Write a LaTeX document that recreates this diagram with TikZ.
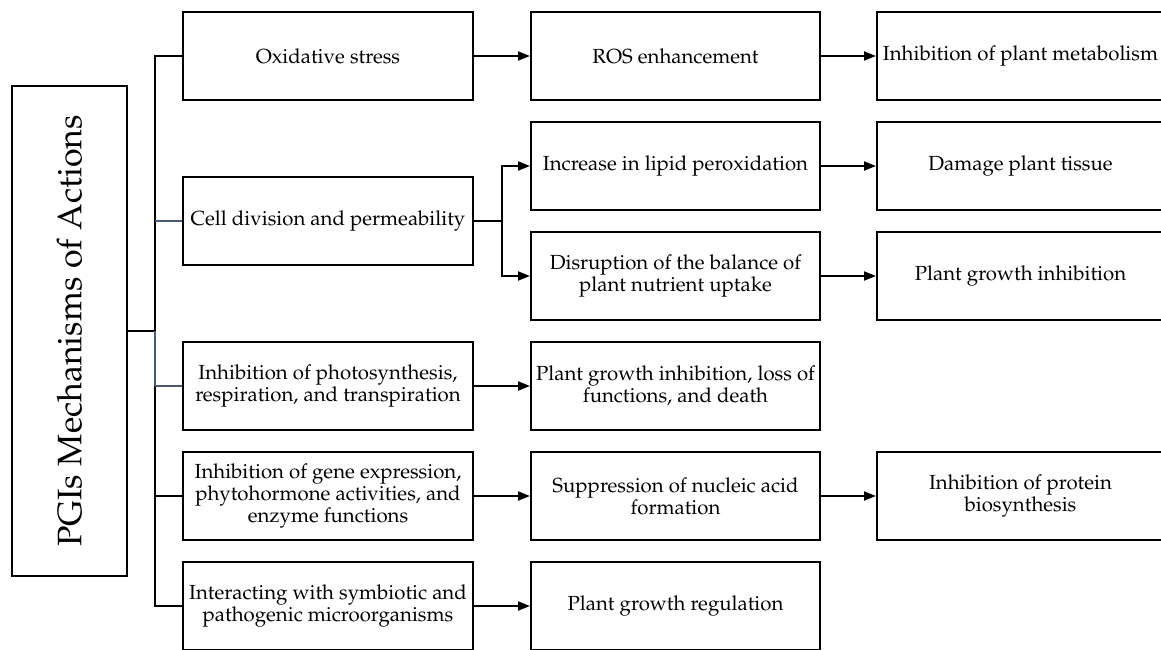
\documentclass[tikz,border=0pt]{standalone}
\usepackage[T1]{fontenc}
\usepackage{palatino}
\usetikzlibrary{arrows.meta}
\definecolor{slate}{HTML}{4A5A72}
\begin{document}
\begin{tikzpicture}[x=1pt,y=-1pt,
  box/.style={draw=black, line width=2pt, rectangle, minimum height=88pt, inner sep=0pt, align=center, font=\fontsize{20.4}{21.7}\selectfont},
  c1/.style={box, minimum width=290pt},
  c2/.style={box, minimum width=289pt},
  c3/.style={box, minimum width=287pt},
  conn/.style={line width=2pt},
  arr/.style={conn, -{Triangle[length=12pt,width=9pt]}},
  branch/.style={line width=1.3pt, draw=slate}
]
\useasboundingbox (0,0) rectangle (1161,650);
\clip (0,0) rectangle (1161,650);

% root
\node[box, minimum width=115pt, minimum height=490pt] (root) at (69.5,331)
  {\rotatebox{90}{\fontsize{34}{34}\selectfont PGIs Mechanisms of Actions}};

% column 1
\node[c1] (a1) at (328,56) {Oxidative stress};
\node[c1] (a2) at (328,221) {Cell division and permeability};
\node[c1] (a3) at (328,386) {Inhibition of photosynthesis,\\respiration, and transpiration};
\node[c1] (a4) at (328,496) {Inhibition of gene expression,\\phytohormone activities, and\\enzyme functions};
\node[c1] (a5) at (328,606) {Interacting with symbiotic and\\pathogenic microorganisms};

% column 2
\node[c2] (b1) at (675.5,56) {ROS enhancement};
\node[c2] (b2) at (675.5,166) {Increase in lipid peroxidation};
\node[c2] (b3) at (675.5,276) {Disruption of the balance of\\plant nutrient uptake};
\node[c2, font=\fontsize{20.4}{18}\selectfont] (b4) at (675.5,386) {Plant growth inhibition, loss of\\functions, and death};
\node[c2] (b5) at (675.5,496) {Suppression of nucleic acid\\formation};
\node[c2] (b6) at (675.5,606) {Plant growth regulation};

% column 3
\node[c3] (d1) at (1020.5,56) {Inhibition of plant metabolism};
\node[c3] (d2) at (1020.5,166) {Damage plant tissue};
\node[c3] (d3) at (1020.5,276) {Plant growth inhibition};
\node[c3] (d4) at (1020.5,496) {Inhibition of protein\\biosynthesis};

% tree
\coordinate (trunk) at (155,331);
\coordinate (fork) at (502,221);
\draw[conn] (root.east) -- (trunk);
\draw[conn] (a1.west) -- (a1.west -| trunk) -- (trunk);
\draw[branch] (trunk) -- (a3.west -| trunk);
\draw[conn] (a3.west -| trunk) -- (a5.west -| trunk) -- (a5.west);
\draw[conn] (a4.west -| trunk) -- (a4.west);
\draw[branch] (a2.west -| trunk) -- (a2.west);
\draw[branch] (a3.west -| trunk) -- (a3.west);

% arrows
\draw[arr] (a1) -- (b1);
\draw[conn] (a2.east) -- (fork);
\draw[arr] (fork) |- (b2.west);
\draw[arr] (fork) |- (b3.west);
\draw[arr] (a3) -- (b4);
\draw[arr] (a4) -- (b5);
\draw[arr] (a5) -- (b6);
\draw[arr] (b1) -- (d1);
\draw[arr] (b2) -- (d2);
\draw[arr] (b3) -- (d3);
\draw[arr] (b5) -- (d4);
\end{tikzpicture}
\end{document}
